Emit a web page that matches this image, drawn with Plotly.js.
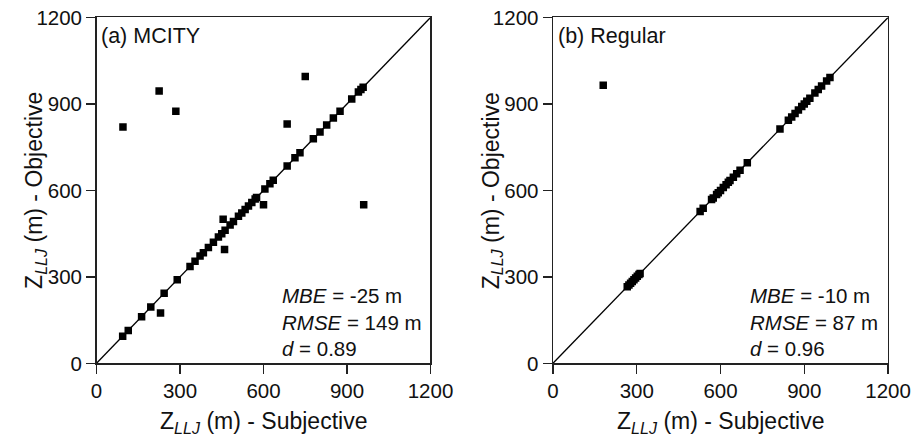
<!DOCTYPE html>
<html>
<head>
<meta charset="utf-8">
<script src="https://cdn.plot.ly/plotly-3.0.1.min.js"></script>
<style>html,body{margin:0;padding:0;background:#fff;}#chart{width:914px;height:436px;}</style>
</head>
<body>
<div id="chart"></div>
<script>
// Panel (a) MCITY
const mcitySubjective = [94,114,162,195,243,290,336,354,372,384,402,420,438,450,462,480,492,510,522,534,546,558,570,575,605,623,635,685,713,731,779,803,827,851,875,917,941,950,958,
  95,225,285,750,685,960,600,455,460,230];
const mcityObjective  = [94,114,162,195,243,290,336,354,372,384,402,420,438,450,462,480,492,510,522,534,546,558,570,575,605,623,635,685,713,731,779,803,827,851,875,917,941,950,958,
  820,945,875,995,830,550,550,500,395,175];
// Panel (b) Regular
const regularSubjective = [266,272,278,284,290,296,302,308,312,527,538,568,574,586,592,600,610,620,628,634,646,658,670,696,813,843,855,867,879,891,900,909,920,938,950,962,980,992,180];
const regularObjective  = [266,272,278,284,290,296,302,308,312,527,538,568,574,586,592,600,610,620,628,634,646,658,670,696,813,843,855,867,879,891,900,909,920,938,950,962,980,992,965];
const oneToOne = [0,1200];
const tickVals = [0,300,600,900,1200];
const tickText = ['0','300','600','900','1200'];
const panelLabels = ['(a) MCITY','(b) Regular'];
const statsA = ['<i>MBE</i> = -25 m','<i>RMSE</i> = 149 m','<i>d</i> = 0.89'];
const statsB = ['<i>MBE</i> = -10 m','<i>RMSE</i> = 87 m','<i>d</i> = 0.96'];
const xTitle = 'Z<sub><i>LLJ</i></sub> (m) - Subjective';
const yTitle = 'Z<sub><i>LLJ</i></sub> (m) - Objective';

const FONT = 'Liberation Sans, Arial, sans-serif';
const marker = {symbol:'square', size:7.5, color:'#000'};
const lineStyle = {color:'#000', width:1.3};

const traces = [
  {x:oneToOne, y:oneToOne, mode:'lines', line:lineStyle, xaxis:'x', yaxis:'y', hoverinfo:'skip'},
  {x:mcitySubjective, y:mcityObjective, mode:'markers', marker:marker, xaxis:'x', yaxis:'y'},
  {x:oneToOne, y:oneToOne, mode:'lines', line:lineStyle, xaxis:'x2', yaxis:'y2', hoverinfo:'skip'},
  {x:regularSubjective, y:regularObjective, mode:'markers', marker:marker, xaxis:'x2', yaxis:'y2'}
];

function axis(domain, anchor){
  return {domain:domain, anchor:anchor, range:[0,1200], tickmode:'array', tickvals:tickVals, ticktext:tickText,
    ticks:'outside', ticklen:9, tickwidth:1.4, tickcolor:'#222', showline:true, linecolor:'#222', linewidth:1.4,
    mirror:true, showgrid:false, zeroline:false, tickfont:{family:FONT, size:20.5, color:'#111'}, fixedrange:true};
}
const yDom = [0.1667, 0.9599];
const xDomA = [0.1056, 0.471];
const xDomB = [0.605, 0.9716];

const ann = [];
function addPanel(xr, yr, xd, label, stats, statsX){
  ann.push({xref:xr+' domain', yref:yr+' domain', x:0.008, y:0.988, xanchor:'left', yanchor:'top', showarrow:false,
    text:label, font:{family:FONT, size:21.5, color:'#111'}});
  ann.push({xref:xr+' domain', yref:yr+' domain', x:statsX, y:0.235, xanchor:'left', yanchor:'top', align:'left', showarrow:false,
    text:stats.join('<br>'), font:{family:FONT, size:20.5, color:'#111'}});
  ann.push({xref:'paper', yref:'paper', x:(xd[0]+xd[1])/2, y:0.032, xanchor:'center', yanchor:'middle', showarrow:false,
    text:xTitle, font:{family:FONT, size:23, color:'#111'}});
  ann.push({xref:'paper', yref:'paper', x:(xd[0]*914-61)/914, y:(yDom[0]+yDom[1])/2, xanchor:'center', yanchor:'middle', textangle:-90, showarrow:false,
    text:yTitle, font:{family:FONT, size:23, color:'#111'}});
}
addPanel('x','y',xDomA,panelLabels[0],statsA,0.548);
addPanel('x2','y2',xDomB,panelLabels[1],statsB,0.583);

const layout = {
  width:914, height:436, margin:{l:0,r:0,t:0,b:0}, showlegend:false,
  paper_bgcolor:'#fff', plot_bgcolor:'#fff',
  xaxis:axis(xDomA,'y'), yaxis:axis(yDom,'x'),
  xaxis2:axis(xDomB,'y2'), yaxis2:axis(yDom,'x2'),
  annotations:ann
};
Plotly.newPlot('chart', traces, layout, {displayModeBar:false, staticPlot:true});
</script>
</body>
</html>
